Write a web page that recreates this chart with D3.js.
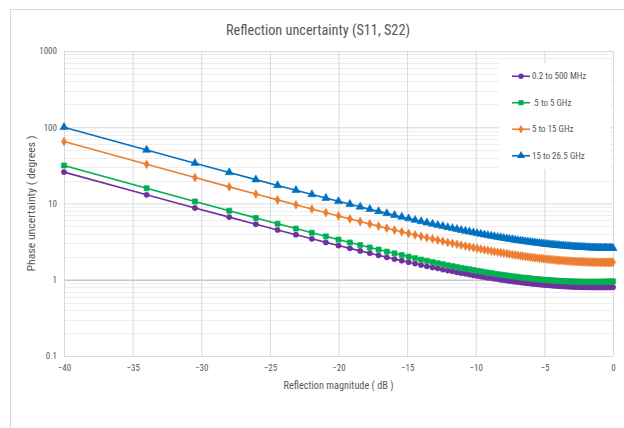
<!DOCTYPE html>
<html><head><meta charset="utf-8">
<script src="https://cdn.jsdelivr.net/npm/d3@7"></script>
<style>
html,body{margin:0;padding:0;background:#fff;}
svg{display:block;}
text{font-family:"Liberation Sans Narrow","Arial Narrow","Roboto Condensed","Liberation Sans",sans-serif;fill:#595959;}
</style></head>
<body><svg id="c" width="624" height="428"></svg>
<script>
const chartTitle = "Reflection uncertainty (S11, S22)";
const xTitle = "Reflection magnitude ( dB )";
const yTitle = "Phase uncertainty ( degrees )";
const xTicks = [-40,-35,-30,-25,-20,-15,-10,-5,0];
const yTicks = [0.1,1,10,100,1000];
const yTickLabels = ["0.1","1","10","100","1000"];
const seriesNames = ["0.2 to 500 MHz",".5 to 5 GHz","5 to 15 GHz","15 to 26.5 GHz"];
const seriesColors = ["#7030A0","#00B050","#ED7D31","#0070C0"];

const reflectionDb = [-40,-33.98,-30.46,-27.96,-26.02,-24.44,-23.10,-21.94,-20.92,-20,
-19.17,-18.42,-17.72,-17.08,-16.48,-15.92,-15.39,-14.89,-14.42,-13.98,
-13.56,-13.15,-12.77,-12.40,-12.04,-11.70,-11.37,-11.06,-10.75,-10.46,
-10.17,-9.90,-9.63,-9.37,-9.12,-8.87,-8.64,-8.40,-8.18,-7.96,
-7.74,-7.54,-7.33,-7.13,-6.94,-6.74,-6.56,-6.38,-6.20,-6.02,
-5.85,-5.68,-5.51,-5.35,-5.19,-5.04,-4.88,-4.73,-4.58,-4.44,
-4.29,-4.15,-4.01,-3.88,-3.74,-3.61,-3.48,-3.35,-3.22,-3.10,
-2.97,-2.85,-2.73,-2.62,-2.50,-2.38,-2.27,-2.16,-2.05,-1.94,
-1.83,-1.72,-1.62,-1.51,-1.41,-1.31,-1.21,-1.11,-1.01,-0.92,
-0.82,-0.72,-0.63,-0.54,-0.45,-0.35,-0.26,-0.18,-0.09,0];

const band02to500MHz = [25.8,13.01,8.75,6.63,5.35,4.50,3.90,3.44,3.09,2.81,
2.58,2.39,2.23,2.09,1.97,1.87,1.78,1.70,1.63,1.56,
1.50,1.45,1.41,1.36,1.32,1.29,1.25,1.22,1.20,1.17,
1.14,1.12,1.10,1.08,1.06,1.05,1.03,1.02,1.00,0.99,
0.976,0.964,0.953,0.942,0.933,0.924,0.915,0.907,0.900,0.893,
0.886,0.880,0.874,0.868,0.862,0.858,0.853,0.848,0.844,0.840,
0.836,0.833,0.829,0.827,0.824,0.821,0.818,0.816,0.814,0.811,
0.809,0.808,0.806,0.805,0.804,0.803,0.801,0.800,0.800,0.799,
0.798,0.797,0.797,0.797,0.796,0.795,0.796,0.796,0.795,0.795,
0.796,0.796,0.796,0.796,0.797,0.797,0.798,0.798,0.799,0.800];

const band05to5GHz = [31.5,15.85,10.64,8.03,6.47,5.43,4.69,4.14,3.71,3.36,
3.08,2.85,2.65,2.49,2.34,2.22,2.11,2.01,1.92,1.84,
1.77,1.71,1.65,1.60,1.55,1.51,1.47,1.43,1.40,1.37,
1.34,1.31,1.29,1.26,1.24,1.22,1.20,1.18,1.17,1.15,
1.14,1.12,1.11,1.10,1.09,1.07,1.06,1.06,1.05,1.04,
1.03,1.02,1.02,1.01,1.00,0.998,0.993,0.988,0.984,0.979,
0.975,0.971,0.968,0.964,0.962,0.958,0.956,0.953,0.952,0.949,
0.948,0.946,0.945,0.943,0.942,0.941,0.941,0.939,0.939,0.938,
0.939,0.938,0.938,0.938,0.937,0.938,0.938,0.939,0.939,0.940,
0.940,0.941,0.942,0.943,0.944,0.945,0.946,0.947,0.948,0.950];

const band5to15GHz = [65.0,32.67,21.90,16.52,13.30,11.15,9.62,8.47,7.58,6.87,
6.29,5.80,5.40,5.05,4.75,4.49,4.25,4.05,3.87,3.71,
3.56,3.43,3.31,3.20,3.09,3.00,2.92,2.84,2.77,2.70,
2.64,2.58,2.53,2.47,2.43,2.38,2.34,2.30,2.27,2.23,
2.20,2.17,2.14,2.11,2.09,2.06,2.04,2.02,2.00,1.98,
1.96,1.94,1.93,1.91,1.90,1.88,1.87,1.86,1.85,1.84,
1.825,1.815,1.806,1.797,1.789,1.781,1.773,1.766,1.759,1.754,
1.748,1.742,1.737,1.732,1.727,1.723,1.720,1.716,1.712,1.709,
1.706,1.704,1.701,1.700,1.698,1.696,1.694,1.693,1.692,1.690,
1.690,1.690,1.689,1.689,1.689,1.689,1.689,1.689,1.690,1.691];

const band15to265GHz = [100.0,50.34,33.80,25.53,20.57,17.27,14.92,13.15,11.78,10.69,
9.79,9.05,8.42,7.89,7.42,7.02,6.66,6.35,6.07,5.82,
5.59,5.38,5.20,5.03,4.87,4.73,4.60,4.47,4.36,4.26,
4.16,4.07,3.98,3.90,3.83,3.76,3.70,3.63,3.58,3.52,
3.47,3.42,3.38,3.33,3.29,3.26,3.22,3.18,3.15,3.12,
3.09,3.06,3.04,3.01,2.99,2.96,2.94,2.92,2.90,2.88,
2.87,2.85,2.83,2.82,2.80,2.79,2.78,2.76,2.75,2.74,
2.73,2.72,2.71,2.70,2.69,2.69,2.68,2.67,2.67,2.66,
2.65,2.65,2.64,2.64,2.63,2.63,2.63,2.62,2.62,2.62,
2.61,2.61,2.61,2.61,2.61,2.60,2.60,2.60,2.60,2.60];

const seriesValues = [band02to500MHz, band05to5GHz, band5to15GHz, band15to265GHz];
const markerTypes = [d3.symbolCircle, d3.symbolSquare, d3.symbolDiamond, d3.symbolTriangle];
const markerSizes = [22, 26, 22, 28];

const svg = d3.select("#c");
const L = 64, R = 613, T = 51, B = 356;
const x = d3.scaleLinear().domain([-40,0]).range([L,R]);
const y = d3.scaleLog().domain([0.1,1000]).range([B,T]);

// chart frame
svg.append("rect").attr("x",10.5).attr("y",9.5).attr("width",640).attr("height",440)
  .attr("fill","#fff").attr("stroke","#d9d9d9").attr("stroke-width",1);

// title
svg.append("text").attr("x",318).attr("y",35).attr("text-anchor","middle")
  .attr("font-size",14).attr("textLength",184).attr("lengthAdjust","spacingAndGlyphs").text(chartTitle);

// minor horizontal gridlines
const minor = [];
for (let d = 0.1; d < 1000; d *= 10) for (let m = 2; m <= 9; m++) minor.push(+(d*m).toPrecision(3));
svg.append("g").selectAll("line").data(minor).join("line")
  .attr("x1",L).attr("x2",R).attr("y1",d=>Math.round(y(d))+0.5).attr("y2",d=>Math.round(y(d))+0.5)
  .attr("stroke","#eeeeee").attr("stroke-width",1);

// y axis with major gridlines
const yAxis = d3.axisLeft(y).tickValues(yTicks).tickFormat((d,i)=>yTickLabels[i]).tickSize(-(R-L)).tickPadding(7);
const gy = svg.append("g").attr("transform",`translate(${L},0)`).call(yAxis);
gy.select(".domain").remove();
gy.selectAll(".tick line").attr("stroke",d=>d===1?"#c8c8c8":"#d9d9d9").attr("stroke-width",d=>d===1?1.5:1);
gy.selectAll(".tick text").attr("font-size",9).attr("fill","#6f6f6f");

// x axis with vertical gridlines
const xAxis = d3.axisBottom(x).tickValues(xTicks).tickFormat(d3.format("d")).tickSize(-(B-T)).tickPadding(9);
const gx = svg.append("g").attr("transform",`translate(0,${B})`).call(xAxis);
gx.select(".domain").remove();
gx.selectAll(".tick line").attr("stroke","#d9d9d9").attr("stroke-width",1);
gx.selectAll(".tick text").attr("font-size",9).attr("fill","#6f6f6f");
svg.append("line").attr("x1",L).attr("x2",R).attr("y1",B+0.5).attr("y2",B+0.5).attr("stroke","#d9d9d9");

// axis titles
svg.append("text").attr("x",(L+R)/2).attr("y",389).attr("text-anchor","middle")
  .attr("font-size",10).attr("textLength",110).attr("lengthAdjust","spacingAndGlyphs").text(xTitle);
svg.append("text").attr("transform",`translate(35,${(T+B)/2}) rotate(-90)`).attr("text-anchor","middle")
  .attr("font-size",10).attr("textLength",136).attr("lengthAdjust","spacingAndGlyphs").text(yTitle);

// series
const line = d3.line().x((d,i)=>x(reflectionDb[i])).y(d=>y(d));
seriesValues.forEach((vals,si)=>{
  const g = svg.append("g");
  g.append("path").datum(vals).attr("d",line).attr("fill","none")
    .attr("stroke",seriesColors[si]).attr("stroke-width",1.6).attr("stroke-linejoin","round");
  g.selectAll("path.m").data(vals).join("path").attr("class","m")
    .attr("d",d3.symbol().type(markerTypes[si]).size(markerSizes[si]))
    .attr("transform",(d,i)=>`translate(${x(reflectionDb[i])},${y(d)})`)
    .attr("fill",seriesColors[si]).attr("stroke",seriesColors[si]).attr("stroke-width",0.6);
});

// legend
const lg = svg.append("g");
lg.append("rect").attr("x",499).attr("y",63).attr("width",111).attr("height",106).attr("fill","#fff");
const legendY = d3.scaleBand().domain(d3.range(seriesNames.length)).range([63,169]);
seriesNames.forEach((name,i)=>{
  const cy = legendY(i) + legendY.bandwidth()/2;
  lg.append("line").attr("x1",512).attr("x2",530).attr("y1",cy).attr("y2",cy)
    .attr("stroke",seriesColors[i]).attr("stroke-width",1.6);
  lg.append("path").attr("d",d3.symbol().type(markerTypes[i]).size(markerSizes[i]))
    .attr("transform",`translate(521,${cy})`).attr("fill",seriesColors[i]);
  lg.append("text").attr("x",532).attr("y",cy+3).attr("font-size",9).attr("fill","#6f6f6f").text(name);
});
</script></body></html>
